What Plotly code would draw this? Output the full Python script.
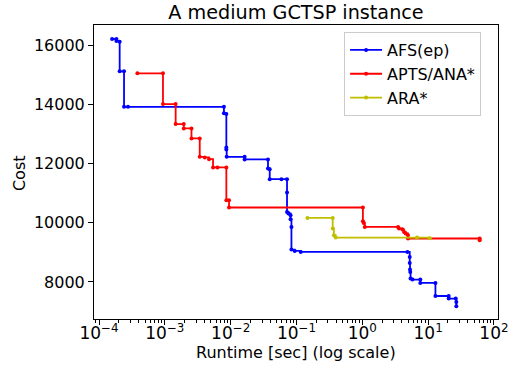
import numpy as np
import plotly.graph_objects as go

# AFS(ep)
afs_t = [1.58e-4, 1.84e-4, 1.84e-4, 2.06e-4, 2.06e-4, 2.40e-4, 2.40e-4, 2.76e-4,
         7.9e-3, 7.9e-3, 8.6e-3, 8.6e-3, 8.6e-3, 8.7e-3, 0.0163, 0.0163,
         0.0369, 0.0369, 0.0392, 0.0392, 0.059, 0.0718, 0.0718, 0.0718,
         0.0755, 0.0813, 0.0813, 0.0838, 0.0838, 0.094, 0.116, 4.84,
         5.25, 5.25, 5.3, 5.35, 5.4, 5.77, 7.6, 7.6,
         12.9, 12.9, 20.5, 20.5, 26.2, 26.8, 26.8]
afs_c = [16213, 16213, 16146, 16120, 15120, 15120, 13922, 13922,
         13922, 13700, 13675, 12548, 12480, 12230, 12230, 12142,
         12142, 11838, 11814, 11475, 11475, 11475, 11025, 10369,
         10315, 10257, 10122, 9861, 9096, 9049, 9015, 9015,
         8846, 8643, 8420, 8338, 8115, 8081, 8081, 7966,
         7966, 7526, 7526, 7438, 7438, 7323, 7178]

# APTS/ANA*
apts_t = [3.83e-4, 9.37e-4, 9.37e-4, 1.46e-3, 1.46e-3, 1.94e-3, 1.94e-3, 2.54e-3,
          2.54e-3, 3.39e-3, 3.39e-3, 4.04e-3, 4.69e-3, 5.4e-3, 6.3e-3, 8.6e-3,
          8.6e-3, 9.44e-3, 9.44e-3, 1.02, 1.02, 1.05, 1.09, 3.48,
          3.6, 4.06, 4.3, 4.56, 4.94, 4.94, 60.7, 60.7]
apts_c = [15052, 15052, 14013, 14013, 13337, 13337, 13191, 13191,
          12853, 12853, 12230, 12210, 12152, 11871, 11871, 11871,
          10765, 10765, 10518, 10518, 10054, 9997, 9861, 9861,
          9807, 9773, 9692, 9638, 9580, 9469, 9469, 9411]

# ARA*
ara_t = [0.1466, 0.355, 0.355, 0.37, 0.394, 6.78, 10.6]
ara_c = [10166, 10166, 9807, 9580, 9502, 9502, 9480]

x_tickvals = [1e-4, 1e-3, 1e-2, 1e-1, 1e0, 1e1, 1e2]
x_ticktext = ["10<sup>\u22124</sup>", "10<sup>\u22123</sup>", "10<sup>\u22122</sup>",
              "10<sup>\u22121</sup>", "10<sup>0</sup>", "10<sup>1</sup>", "10<sup>2</sup>"]
y_tickvals = [8000, 10000, 12000, 14000, 16000]
y_ticktext = ["8000", "10000", "12000", "14000", "16000"]

x_range = [-4.076, 2.061]
y_range = [6748, 16687]
minor_vals = [k * 10.0 ** d for d in range(-5, 2) for k in range(2, 10)
              if x_range[0] <= np.log10(k * 10.0 ** d) <= x_range[1]]

FONT = "DejaVu Sans"
fig = go.Figure()
for name, t, c, col in [("AFS(ep)", afs_t, afs_c, "#0000ff"),
                        ("APTS/ANA*", apts_t, apts_c, "#ff0000"),
                        ("ARA*", ara_t, ara_c, "#bfbf00")]:
    fig.add_trace(go.Scatter(x=t, y=c, name=name, mode="lines+markers",
                             line=dict(color=col, width=1.8, shape="hv"),
                             marker=dict(color=col, size=4)))

fig.update_layout(
    width=516, height=370,
    margin=dict(l=94, r=18, t=25, b=51, autoexpand=False),
    paper_bgcolor="white", plot_bgcolor="white",
    font=dict(family=FONT, size=16, color="black"),
    title=dict(text="A medium GCTSP instance", xref="paper", x=0.5, xanchor="center",
               yref="container", y=0.966, yanchor="middle", font=dict(size=19.2)),
    showlegend=True,
    legend=dict(x=0.619, y=0.976, xanchor="left", yanchor="top",
                bordercolor="#cccccc", borderwidth=1, bgcolor="white",
                font=dict(size=16), traceorder="normal", itemwidth=32),
    annotations=[
        dict(text="Runtime [sec] (log scale)", xref="paper", yref="paper",
             x=0.5, y=-0.1156, xanchor="center", yanchor="middle",
             showarrow=False, font=dict(size=16)),
        dict(text="Cost", xref="paper", yref="paper", x=-0.183, y=0.4966,
             xanchor="center", yanchor="middle", textangle=-90,
             showarrow=False, font=dict(size=16)),
    ],
)
fig.update_xaxes(type="log", range=x_range, tickvals=x_tickvals, ticktext=x_ticktext,
                 ticks="outside", ticklen=5, tickwidth=1, tickcolor="black",
                 showline=True, linecolor="black", linewidth=1, mirror=True,
                 showgrid=False, zeroline=False, automargin=False,
                 ticklabelstandoff=-6,
                 minor=dict(tickvals=minor_vals, ticks="outside", ticklen=3,
                            tickwidth=0.8, tickcolor="black", showgrid=False),
                 tickfont=dict(size=17))
fig.update_yaxes(range=y_range, tickvals=y_tickvals, ticktext=y_ticktext,
                 ticks="outside", ticklen=5, tickwidth=1, tickcolor="black",
                 showline=True, linecolor="black", linewidth=1, mirror=True,
                 showgrid=False, zeroline=False, automargin=False,
                 tickfont=dict(size=16))

fig.write_html("out.html", config={"displayModeBar": False},
               post_script="document.body.style.margin='0';")
